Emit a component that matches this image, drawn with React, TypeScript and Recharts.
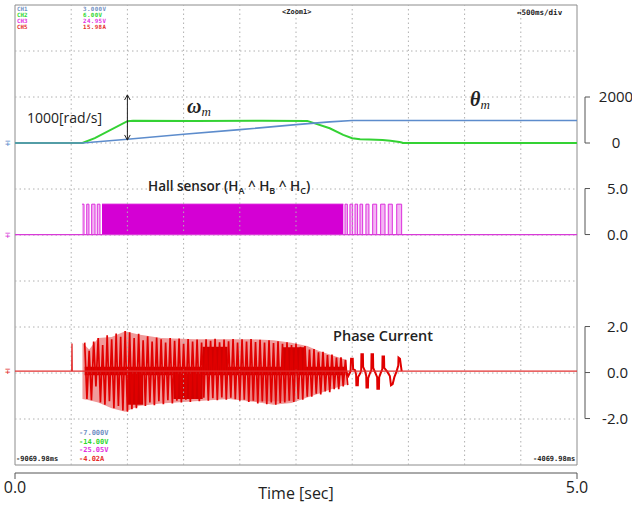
import React from "react";
import {
  ComposedChart, Line, Area, XAxis, YAxis, ReferenceArea, ReferenceLine,
} from "recharts";

const W = 632;
const H = 505;
const PLOT = { left: 15, top: 5, right: 577, bottom: 465 };
const FONT = '"Open Sans", "Noto Sans", sans-serif';
const SCOPE_FONT = '"DejaVu Sans Mono", monospace';

// time axis [s], 500 ms/div
const TIME_DOMAIN: [number, number] = [0, 5];
const TIME_TICKS = [0, 5];
const GRID_T = [0.5, 1, 1.5, 2, 2.5, 3, 3.5, 4, 4.5];
const GRID_DIV = [1, 2, 3, 4, 5, 6, 7, 8, 9];

// scope channel ranges (bottom, top)
const THETA_RANGE: [number, number] = [-7, 3];
const OMEGA_RANGE: [number, number] = [-14000, 6000];
const HALL_RANGE: [number, number] = [-25.05, 24.95];
const CUR_RANGE: [number, number] = [-4.02, 15.98];

// CH2 speed [rad/s]
const OMEGA_T = [0, 0.6, 0.71, 1.0, 1.05, 1.6, 2.2, 2.6, 2.8, 2.92, 3.0, 3.07, 3.15, 3.27, 3.34, 3.42, 3.44, 3.45, 5];
const OMEGA = [0, 0, 215, 950, 962, 958, 965, 960, 640, 350, 210, 160, 150, 135, 95, 40, 20, 0, 0];

// CH1 position
const THETA_T = [0, 0.6, 1.0, 1.5, 2.0, 2.5, 2.8, 3.0, 5];
const THETA = [0, 0, 0.08, 0.19, 0.29, 0.4, 0.46, 0.49, 0.49];

// CH3 hall xor: edge times [s]
const HALL_LEVEL = 3.3;
const HALL_IN = [0.596, 0.614, 0.638, 0.658, 0.682, 0.712, 0.732, 0.756];
const HALL_DENSE = [0.774, 2.921];
const HALL_OUT = [2.936, 2.957, 2.98, 3.004, 3.025, 3.048, 3.069, 3.093, 3.122, 3.149, 3.182, 3.218, 3.253, 3.292, 3.321, 3.357, 3.396, 3.44];

// CH5 phase current [A]
const CUR_BASE_T = [0, 0.505, 0.507, 0.509, 5];
const CUR_BASE = [0.06, 0.06, 1.26, 0.06, 0.06];
const CUR_ENV_T = [0.6, 0.66, 0.74, 0.86, 0.98, 1.1, 1.3, 1.6, 1.9, 2.1, 2.3, 2.46, 2.6, 2.7, 2.8, 2.95];
const CUR_ENV_HI = [1.3, 1.0, 1.5, 1.55, 1.8, 1.65, 1.5, 1.45, 1.45, 1.45, 1.4, 1.3, 1.15, 0.95, 0.78, 0.55];
const CUR_ENV_LO = [-1.15, -1.2, -1.3, -1.55, -1.7, -1.45, -1.35, -1.25, -1.15, -1.25, -1.4, -1.32, -1.08, -0.92, -0.75, -0.52];
const SPIKE_T = [
  0.62, 0.66, 0.7, 0.74, 0.78, 0.82, 0.86, 0.9, 0.94, 0.98,
  1.02, 1.06, 1.1, 1.14, 1.18, 1.22, 1.26, 1.3, 1.34, 1.38,
  1.42, 1.46, 1.5, 1.54, 1.58, 1.62, 1.66, 1.7, 1.74, 1.78,
  1.82, 1.86, 1.9, 1.94, 1.98, 2.02, 2.06, 2.1, 2.14, 2.18,
  2.22, 2.26, 2.3, 2.34, 2.38, 2.42, 2.46, 2.5, 2.54, 2.58,
  2.62, 2.66, 2.7, 2.74, 2.78, 2.82, 2.86, 2.9, 2.94,
];
const SPIKE_HI = [
  1.3, 0.95, 1.35, 1.5, 1.2, 1.62, 1.45, 1.7, 1.55, 1.8,
  1.75, 1.5, 1.68, 1.4, 1.58, 1.35, 1.52, 1.45, 1.3, 1.5,
  1.38, 1.48, 1.25, 1.46, 1.35, 1.44, 1.3, 1.45, 1.38, 1.47,
  1.32, 1.44, 1.36, 1.46, 1.3, 1.45, 1.35, 1.46, 1.33, 1.42,
  1.3, 1.4, 1.28, 1.36, 1.25, 1.32, 1.2, 1.26, 1.12, 1.15,
  1.0, 1.02, 0.88, 0.9, 0.76, 0.78, 0.65, 0.66, 0.55,
];
const SPIKE_LO = [
  -1.15, -1.2, -0.6, -1.3, -1.4, -1.25, -1.55, -1.45, -1.65, -1.7,
  -1.6, -1.55, -1.35, -1.45, -1.3, -1.42, -1.25, -1.38, -1.2, -1.35,
  -1.22, -1.3, -1.18, -1.28, -1.15, -1.25, -1.1, -1.22, -1.12, -1.2,
  -1.08, -1.18, -1.1, -1.16, -1.22, -1.18, -1.28, -1.22, -1.34, -1.26,
  -1.38, -1.3, -1.4, -1.32, -1.3, -1.22, -1.28, -1.15, -1.18, -1.05,
  -1.05, -0.92, -0.95, -0.82, -0.85, -0.72, -0.72, -0.6, -0.55,
];
const CUR_CORE = [0.62, 2.94, -0.12, 0.25];
const DARK_BLOCKS = [
  [1.0, 1.14, -1.4, 0],
  [1.41, 1.67, -1.15, 0],
  [1.67, 1.89, 0, 1.12],
  [2.38, 2.58, 0, 1.1],
];
const LIGHT_BLOCKS = [[2.06, 2.5, -1.25, 0]];
const CUR_TAIL_T = [
  2.94, 2.965, 2.985, 2.99, 3.005, 3.008, 3.025, 3.035, 3.037, 3.05, 3.053, 3.07,
  3.08, 3.082, 3.095, 3.097, 3.115, 3.125, 3.127, 3.14, 3.142, 3.16, 3.17, 3.172,
  3.185, 3.187, 3.205, 3.222, 3.224, 3.238, 3.24, 3.255, 3.268, 3.27, 3.283, 3.285,
  3.31, 3.335, 3.345, 3.36, 3.375, 3.395, 3.41, 3.412, 3.425, 3.44,
];
const CUR_TAIL = [
  0.1, -0.15, 0.05, 0.6, 0.6, 0.15, 0.1, -0.1, -0.55, -0.55, -0.2, -0.05,
  0.1, 0.8, 0.8, 0.25, 0.05, -0.15, -0.65, -0.65, -0.25, 0, 0.1, 0.8,
  0.8, 0.2, 0, -0.2, -0.7, -0.7, -0.2, 0, 0.15, 0.7, 0.7, 0.2,
  0.05, -0.15, -0.55, -0.5, -0.2, 0.05, 0.3, 0.65, 0.6, 0.06,
];

// annotation arrow (1000 rad/s marker)
const ARROW_T = 1.0;
const ARROW_SPAN = [130, 2090];

// scope overlay text
const CH_NAMES = ["CH1", "CH2", "CH3", "CH5"];
const CH_TOP = ["3.000V", "6.00V", "24.95V", "15.98A"];
const CH_BOTTOM = ["-7.000V", "-14.00V", "-25.05V", "-4.02A"];
const CH_COLORS = ["#6f8fc4", "#2fd82f", "#e22ee2", "#e62a2a"];

const series = (ts: number[], vs: number[]) => ts.map((t, i) => ({ t, v: vs[i] }));
const pixelOf = (v: number, [lo, hi]: [number, number]) =>
  PLOT.top + ((hi - v) / (hi - lo)) * (PLOT.bottom - PLOT.top);

const omegaData = series(OMEGA_T, OMEGA);
const thetaData = series(THETA_T, THETA);
const hallIn = HALL_IN.map((t, k) => ({ t, v: k % 2 === 0 ? HALL_LEVEL : 0 }));
const hallOut = [
  { t: HALL_DENSE[1], v: 0 },
  ...HALL_OUT.map((t, k) => ({ t, v: k % 2 === 0 ? HALL_LEVEL : 0 })),
];
const hallDense = HALL_DENSE.map((t) => ({ t, v: HALL_LEVEL }));
const envData = CUR_ENV_T.map((t, i) => ({ t, r: [CUR_ENV_LO[i], CUR_ENV_HI[i]] }));
const spikeData = SPIKE_T.flatMap((t, i) => [
  { t, v: SPIKE_HI[i] },
  { t: t + 0.02, v: SPIKE_LO[i] },
]);
const blockData = (b: number[]) => [
  { t: b[0], r: [b[2], b[3]] },
  { t: b[1], r: [b[2], b[3]] },
];

function Txt({ x, y, size, color = "#222", family = FONT, weight = 400, style, children }: any) {
  return (
    <div
      style={{
        position: "absolute", left: x, top: y - size * 0.55, fontSize: size, lineHeight: 1,
        color, fontFamily: family, fontWeight: weight, whiteSpace: "nowrap", ...style,
      }}
    >
      {children}
    </div>
  );
}

function SideAxis({ range, ticks, fmt, anchor, dx }: any) {
  const top = pixelOf(ticks[ticks.length - 1], range);
  const bottom = pixelOf(ticks[0], range);
  return (
    <div style={{ position: "absolute", left: 0, top: 0 }}>
      <ComposedChart width={W} height={H} margin={{ top, bottom: H - bottom, left: 520, right: 0 }}>
        <XAxis type="number" dataKey="t" domain={[0, 1]} hide />
        <YAxis
          orientation="right"
          type="number"
          width={47}
          domain={[ticks[0], ticks[ticks.length - 1]]}
          ticks={ticks}
          interval={0}
          allowDataOverflow
          tickSize={5}
          tickMargin={2}
          stroke="#555"
          tick={(p: any) => (
            <text x={p.x + dx} y={p.y} dy="0.36em" textAnchor={anchor} fontSize={15} fontFamily={FONT} fill="#222">
              {fmt(p.payload.value)}
            </text>
          )}
        />
        <Line data={[{ t: 0, v: ticks[0] }, { t: 1, v: ticks[0] }]} dataKey="v" stroke="none" dot={false} isAnimationActive={false} />
      </ComposedChart>
    </div>
  );
}

export default function App() {
  const margin = { top: PLOT.top, left: PLOT.left, right: W - PLOT.right, bottom: H - PLOT.bottom };
  const grid = { stroke: "#b0b0b0", strokeDasharray: "1.5 3", strokeWidth: 1, ifOverflow: "visible" as const };
  return (
    <div style={{ position: "absolute", left: 0, top: 0, width: W, height: H, background: "#fff", overflow: "hidden" }}>
      <div style={{ position: "absolute", left: 0, top: 0 }}>
        <ComposedChart width={W} height={H} margin={margin}>
          <XAxis type="number" dataKey="t" domain={TIME_DOMAIN} allowDataOverflow hide />
          <YAxis yAxisId="grid" type="number" domain={[0, 10]} allowDataOverflow hide />
          <YAxis yAxisId="theta" type="number" domain={THETA_RANGE} allowDataOverflow hide />
          <YAxis yAxisId="omega" type="number" domain={OMEGA_RANGE} allowDataOverflow hide />
          <YAxis yAxisId="hall" type="number" domain={HALL_RANGE} allowDataOverflow hide />
          <YAxis yAxisId="cur" type="number" domain={CUR_RANGE} allowDataOverflow hide />

          {/* scope graticule */}
          {GRID_T.map((t) => (
            <ReferenceLine key={"gx" + t} yAxisId="grid" segment={[{ x: t, y: 0 }, { x: t, y: 10 }]} {...grid} />
          ))}
          {GRID_DIV.map((d) => (
            <ReferenceLine key={"gy" + d} yAxisId="grid" segment={[{ x: 0, y: d }, { x: 5, y: d }]} {...grid} />
          ))}
          <ReferenceArea yAxisId="grid" x1={0} x2={5} y1={0} y2={10} fill="none" stroke="#8c8c8c" strokeWidth={1} />

          {/* phase current */}
          <Area yAxisId="cur" data={envData} dataKey="r" type="linear" fill="#f09a9a" fillOpacity={1} stroke="none" isAnimationActive={false} />
          {LIGHT_BLOCKS.map((b, i) => (
            <Area key={"lb" + i} yAxisId="cur" data={blockData(b)} dataKey="r" type="linear" fill="#ec7e7e" fillOpacity={1} stroke="none" isAnimationActive={false} />
          ))}
          <Line yAxisId="cur" data={spikeData} dataKey="v" type="linear" stroke="#e00000" strokeWidth={1.7} dot={false} isAnimationActive={false} />
          <Area yAxisId="cur" data={blockData(CUR_CORE)} dataKey="r" type="linear" fill="#d20000" fillOpacity={1} stroke="none" isAnimationActive={false} />
          {DARK_BLOCKS.map((b, i) => (
            <Area key={"db" + i} yAxisId="cur" data={blockData(b)} dataKey="r" type="linear" fill="#d00000" fillOpacity={1} stroke="none" isAnimationActive={false} />
          ))}
          <Line yAxisId="cur" data={series(CUR_TAIL_T, CUR_TAIL)} dataKey="v" type="linear" stroke="#e00000" strokeWidth={2} dot={false} isAnimationActive={false} />
          <Line yAxisId="cur" data={series(CUR_BASE_T, CUR_BASE)} dataKey="v" type="linear" stroke="#e23030" strokeWidth={1.4} dot={false} isAnimationActive={false} />

          {/* hall sensor */}
          <Line yAxisId="hall" data={[{ t: 0, v: 0 }, { t: 5, v: 0 }]} dataKey="v" stroke="#d83ad8" strokeWidth={1.3} dot={false} isAnimationActive={false} />
          <Area yAxisId="hall" data={hallIn} dataKey="v" type="stepAfter" baseValue={0} fill="#f4b4f4" fillOpacity={1} stroke="#dc30dc" strokeWidth={1} isAnimationActive={false} />
          <Area yAxisId="hall" data={hallOut} dataKey="v" type="stepAfter" baseValue={0} fill="#f4b4f4" fillOpacity={1} stroke="#dc30dc" strokeWidth={1} isAnimationActive={false} />
          <Area yAxisId="hall" data={hallDense} dataKey="v" type="linear" baseValue={0} fill="#d400d4" fillOpacity={1} stroke="#d400d4" strokeWidth={1} isAnimationActive={false} />

          {/* speed and position */}
          <Line yAxisId="omega" data={omegaData} dataKey="v" type="linear" stroke="#34d234" strokeWidth={2} dot={false} isAnimationActive={false} />
          <Line yAxisId="theta" data={thetaData} dataKey="v" type="linear" stroke="#5d8ccc" strokeWidth={1.6} dot={false} isAnimationActive={false} />

          {/* double arrow */}
          <ReferenceLine yAxisId="omega" segment={[{ x: ARROW_T, y: ARROW_SPAN[0] }, { x: ARROW_T, y: ARROW_SPAN[1] }]} stroke="#222" strokeWidth={1} />
          <ReferenceLine yAxisId="omega" segment={[{ x: ARROW_T - 0.025, y: ARROW_SPAN[1] - 220 }, { x: ARROW_T, y: ARROW_SPAN[1] }]} stroke="#222" strokeWidth={1} />
          <ReferenceLine yAxisId="omega" segment={[{ x: ARROW_T + 0.025, y: ARROW_SPAN[1] - 220 }, { x: ARROW_T, y: ARROW_SPAN[1] }]} stroke="#222" strokeWidth={1} />
          <ReferenceLine yAxisId="omega" segment={[{ x: ARROW_T - 0.025, y: ARROW_SPAN[0] + 220 }, { x: ARROW_T, y: ARROW_SPAN[0] }]} stroke="#222" strokeWidth={1} />
          <ReferenceLine yAxisId="omega" segment={[{ x: ARROW_T + 0.025, y: ARROW_SPAN[0] + 220 }, { x: ARROW_T, y: ARROW_SPAN[0] }]} stroke="#222" strokeWidth={1} />
        </ComposedChart>
      </div>

      {/* time axis */}
      <div style={{ position: "absolute", left: 0, top: 0 }}>
        <ComposedChart width={W} height={H} margin={{ top: 440, left: PLOT.left, right: W - PLOT.right, bottom: 0 }}>
          <XAxis
            type="number"
            dataKey="t"
            domain={TIME_DOMAIN}
            ticks={TIME_TICKS}
            interval={0}
            allowDataOverflow
            height={32}
            tickSize={6}
            tickMargin={3}
            stroke="#555"
            tickFormatter={(v: number) => v.toFixed(1)}
            tick={{ fill: "#222", fontSize: 16, fontFamily: FONT }}
            label={{ value: "Time [sec]", position: "insideBottom", offset: 6, fill: "#222", fontSize: 16, fontFamily: FONT }}
          />
          <YAxis type="number" domain={[0, 1]} hide />
          <Line data={[{ t: 0, v: 0 }, { t: 5, v: 0 }]} dataKey="v" stroke="none" dot={false} isAnimationActive={false} />
        </ComposedChart>
      </div>

      <SideAxis range={OMEGA_RANGE} ticks={[0, 2000]} fmt={(v: number) => String(v)} anchor="middle" dx={24} />
      <SideAxis range={HALL_RANGE} ticks={[0, 5]} fmt={(v: number) => v.toFixed(1)} anchor="end" dx={36} />
      <SideAxis range={CUR_RANGE} ticks={[-2, 0, 2]} fmt={(v: number) => v.toFixed(1)} anchor="end" dx={36} />

      {/* scope readouts */}
      {CH_NAMES.map((n, i) => (
        <Txt key={n} x={17} y={10 + i * 6} size={5.8} color={CH_COLORS[i]} family={SCOPE_FONT} weight={700}>{n}</Txt>
      ))}
      {CH_TOP.map((s, i) => (
        <Txt key={s} x={83} y={10 + i * 6} size={5.8} color={CH_COLORS[i]} family={SCOPE_FONT} weight={700} style={{ letterSpacing: 0.4 }}>{s}</Txt>
      ))}
      {CH_BOTTOM.map((s, i) => (
        <Txt key={s} x={79} y={434 + i * 8.5} size={7} color={CH_COLORS[i]} family={SCOPE_FONT} weight={700}>{s}</Txt>
      ))}
      <Txt x={282} y={13} size={7} family={SCOPE_FONT} weight={700}>{"<Zoom1>"}</Txt>
      <Txt x={517} y={13} size={7.5} family={SCOPE_FONT} weight={700}>{"↔500ms/div"}</Txt>
      <Txt x={16} y={460} size={7} family={SCOPE_FONT} weight={700}>-9069.98ms</Txt>
      <Txt x={533} y={460} size={7} family={SCOPE_FONT} weight={700}>-4069.98ms</Txt>
      <Txt x={5} y={144} size={9} color="#5d8ccc" family={SCOPE_FONT}>∓</Txt>
      <Txt x={5} y={236} size={9} color="#d83ad8" family={SCOPE_FONT}>∓</Txt>
      <Txt x={5} y={372} size={9} color="#e23030" family={SCOPE_FONT}>∓</Txt>

      {/* annotations */}
      <Txt x={27} y={119} size={14}>1000[rad/s]</Txt>
      <Txt x={187} y={107} size={20} family='"Liberation Serif", serif' weight={700} style={{ fontStyle: "italic" }}>
        ω<span style={{ fontSize: 13, fontWeight: 400, position: "relative", top: 3 }}>m</span>
      </Txt>
      <Txt x={470} y={100} size={20} family='"Liberation Serif", serif' weight={700} style={{ fontStyle: "italic" }}>
        θ<span style={{ fontSize: 13, fontWeight: 400, position: "relative", top: 3 }}>m</span>
      </Txt>
      <Txt x={148} y={187} size={13.5} weight={600}>
        Hall sensor (H<span style={{ fontSize: 9, position: "relative", top: 3 }}>A</span> ^ H
        <span style={{ fontSize: 9, position: "relative", top: 3 }}>B</span> ^ H
        <span style={{ fontSize: 9, position: "relative", top: 3 }}>C</span>)
      </Txt>
      <Txt x={333} y={337} size={14.5} weight={600}>Phase Current</Txt>
    </div>
  );
}
